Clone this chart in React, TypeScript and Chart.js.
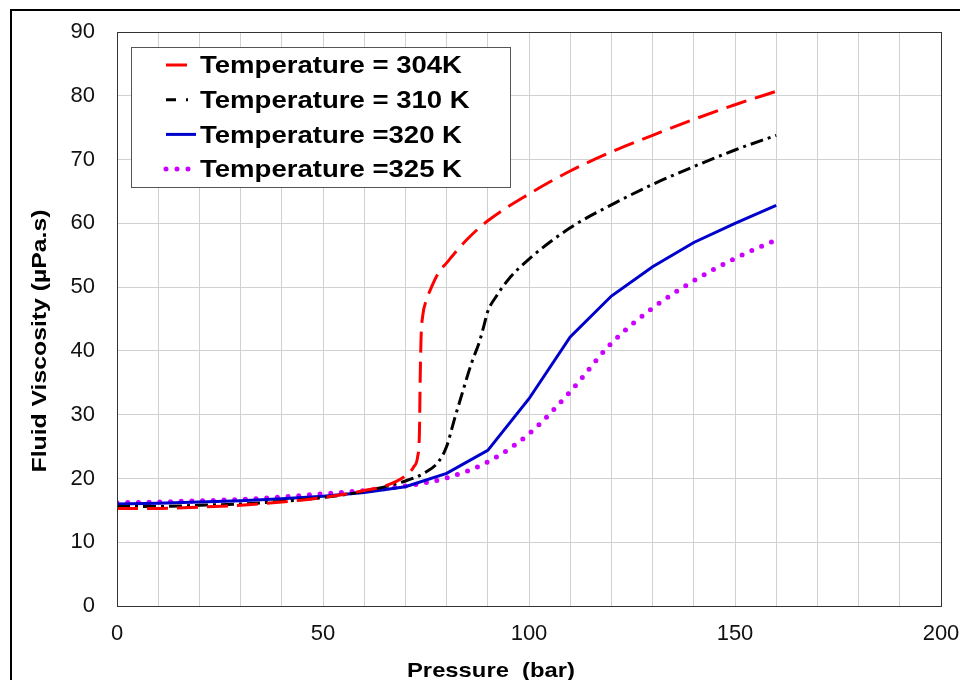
import React, { useEffect, useRef } from "react";
import { Chart, registerables } from "chart.js";

Chart.register(...registerables);

const FONT = "'Liberation Sans', Arial, Helvetica, sans-serif";

// ---- data ----
const SERIES_LABELS = [
  "Temperature = 304K",
  "Temperature = 310 K",
  "Temperature =320 K",
  "Temperature =325 K",
];

const P304 = [0, 10, 20, 30, 40, 50, 60, 65, 70, 72, 73, 73.4, 73.6, 73.8, 74.2, 75, 76, 78, 80, 85, 90, 100, 110, 120, 130, 140, 150, 160];
const V304 = [15.3, 15.3, 15.5, 15.8, 16.3, 17.0, 18.1, 18.8, 20.4, 21.8, 23.5, 27.0, 36.0, 42.0, 45.5, 47.8, 49.5, 52.2, 53.8, 57.5, 60.4, 64.6, 68.2, 71.2, 73.8, 76.3, 78.6, 80.7];

const P310 = [0, 10, 20, 30, 40, 50, 60, 70, 75, 78, 80, 82, 84, 86, 88, 89, 90, 92, 95, 100, 110, 120, 130, 140, 150, 160];
const V310 = [15.6, 15.6, 15.8, 16.0, 16.4, 17.0, 18.0, 19.6, 21.0, 22.6, 25.0, 29.5, 33.8, 38.0, 41.5, 43.8, 46.2, 48.5, 51.2, 54.4, 59.3, 62.9, 66.1, 68.9, 71.5, 73.8];

const P320 = [0, 10, 20, 30, 40, 50, 60, 70, 80, 90, 100, 110, 120, 130, 140, 150, 160];
const V320 = [16.0, 16.1, 16.3, 16.5, 16.8, 17.2, 17.8, 18.7, 20.8, 24.4, 32.5, 42.2, 48.6, 53.2, 57.0, 60.0, 62.8];

const P325 = [0, 10, 20, 30, 40, 50, 60, 70, 80, 90, 100, 110, 120, 130, 140, 150, 160];
const V325 = [16.2, 16.3, 16.5, 16.7, 17.1, 17.6, 18.1, 18.8, 20.1, 22.6, 27.0, 33.6, 41.2, 46.7, 51.0, 54.5, 57.4];

const X_TITLE = "Pressure  (bar)";
const Y_TITLE = "Fluid Viscosity (µPa.s)";
const X_MIN = 0;
const X_MAX = 200;
const X_STEP = 10;
const X_LABEL_EVERY = 50;
const Y_MIN = 0;
const Y_MAX = 90;
const Y_STEP = 10;

// ---- styles ----
const COLORS = ["#ff0000", "#000000", "#0000cc", "#cc00ff"];
const DASHES: number[][] = [[21, 9], [13, 5, 3, 5], [], [0, 10.7]];
const WIDTHS = [3, 3, 3, 5];
const LEGEND_SAMPLE_DASH: number[][] = [[21, 20], [10, 10, 2, 20], [], [0, 11]];
const LEGEND_SAMPLE_LEN = [21, 23, 30, 23];

function toPoints(xs: number[], ys: number[]) {
  return xs.map((x, i) => ({ x, y: ys[i] }));
}

function drawStretched(
  ctx: CanvasRenderingContext2D,
  text: string,
  x: number,
  y: number,
  font: string,
  width: number,
  align: "left" | "center",
  rotate: boolean
) {
  ctx.save();
  ctx.font = font;
  ctx.textBaseline = "alphabetic";
  ctx.textAlign = align;
  const w = ctx.measureText(text).width;
  const k = width / w;
  ctx.translate(x, y);
  if (rotate) ctx.rotate(-Math.PI / 2);
  ctx.scale(k, 1);
  ctx.fillStyle = "#000";
  ctx.fillText(text, 0, 0);
  ctx.restore();
}

const decorPlugin = {
  id: "decor",
  afterDatasetsDraw(chart: any) {
    const { ctx, chartArea: a } = chart;
    // plot frame
    ctx.save();
    ctx.strokeStyle = "#333";
    ctx.lineWidth = 1;
    ctx.strokeRect(Math.round(a.left) + 0.5, Math.round(a.top) + 0.5, Math.round(a.right - a.left), Math.round(a.bottom - a.top));
    ctx.restore();

    // legend box
    const bx = Math.round(a.left) + 14;
    const by = Math.round(a.top) + 15;
    const bw = 379;
    const bh = 140;
    ctx.save();
    ctx.fillStyle = "#fff";
    ctx.fillRect(bx, by, bw, bh);
    ctx.strokeStyle = "#555";
    ctx.lineWidth = 1;
    ctx.strokeRect(bx + 0.5, by + 0.5, bw, bh);
    const legendFont = `bold 23px ${FONT}`;
    ctx.font = legendFont;
    const k = 262 / ctx.measureText(SERIES_LABELS[0]).width;
    SERIES_LABELS.forEach((label, i) => {
      const ry = by + 18 + i * 34.7;
      const sx = bx + 35;
      ctx.save();
      ctx.strokeStyle = COLORS[i];
      ctx.lineWidth = WIDTHS[i];
      ctx.lineCap = i === 3 ? "round" : "butt";
      ctx.setLineDash(LEGEND_SAMPLE_DASH[i]);
      ctx.beginPath();
      ctx.moveTo(sx, ry);
      ctx.lineTo(sx + LEGEND_SAMPLE_LEN[i], ry);
      ctx.stroke();
      ctx.restore();
      const w = ctx.measureText(label).width * k;
      drawStretched(ctx, label, bx + 69, ry + 8.2, legendFont, w, "left", false);
    });
    ctx.restore();
  },
  afterDraw(chart: any) {
    const { ctx, chartArea: a } = chart;
    // axis titles
    drawStretched(ctx, X_TITLE, a.left + 374, a.bottom + 71, `bold 21px ${FONT}`, 168, "center", false);
    drawStretched(ctx, Y_TITLE, a.left - 71.5, (a.top + a.bottom) / 2 + 22, `bold 21px ${FONT}`, 263, "center", true);
  },
};

export default function App() {
  const ref = useRef<HTMLCanvasElement>(null);

  useEffect(() => {
    const series = [
      toPoints(P304, V304),
      toPoints(P310, V310),
      toPoints(P320, V320),
      toPoints(P325, V325),
    ];
    const chart = new Chart(ref.current as HTMLCanvasElement, {
      type: "line",
      data: {
        datasets: series.map((data, i) => ({
          label: SERIES_LABELS[i],
          data,
          borderColor: COLORS[i],
          backgroundColor: COLORS[i],
          borderWidth: WIDTHS[i],
          borderDash: DASHES[i],
          borderCapStyle: i === 3 ? "round" : "butt",
          pointRadius: 0,
          fill: false,
          tension: 0,
          cubicInterpolationMode: i === 2 ? "default" : "monotone",
        })),
      },
      options: {
        animation: false,
        responsive: false,
        devicePixelRatio: 1,
        layout: { padding: { left: 0, top: 32, right: 19, bottom: 0 } },
        plugins: {
          legend: { display: false },
          tooltip: { enabled: false },
          title: { display: false },
        },
        scales: {
          x: {
            type: "linear",
            min: X_MIN,
            max: X_MAX,
            ticks: {
              stepSize: X_STEP,
              autoSkip: false,
              maxRotation: 0,
              minRotation: 0,
              padding: 15,
              color: "#111",
              font: { family: FONT, size: 22 },
              callback: (v: any) => (Number(v) % X_LABEL_EVERY === 0 ? String(v) : ""),
            },
            grid: { color: "#d0d0d0", lineWidth: 1, drawTicks: false },
            border: { display: true, color: "#333", width: 1 },
            afterFit: (s: any) => {
              s.height = 74;
              s.paddingLeft = 0;
              s.paddingRight = 0;
            },
          },
          y: {
            type: "linear",
            min: Y_MIN,
            max: Y_MAX,
            ticks: {
              stepSize: Y_STEP,
              padding: 22,
              color: "#111",
              font: { family: FONT, size: 22 },
            },
            grid: { color: "#d0d0d0", lineWidth: 1, drawTicks: false },
            border: { display: true, color: "#333", width: 1 },
            afterFit: (s: any) => {
              s.width = 117;
              s.paddingTop = 0;
              s.paddingBottom = 0;
            },
          },
        },
      },
      plugins: [decorPlugin],
    } as any);
    return () => chart.destroy();
  }, []);

  return (
    <div style={{ position: "fixed", left: 0, top: 0, width: 960, height: 680, overflow: "hidden", background: "#fff" }}>
      <div
        style={{
          position: "absolute",
          left: 10,
          top: 9,
          width: 1000,
          height: 720,
          border: "2px solid #000",
          boxSizing: "border-box",
        }}
      />
      <canvas
        ref={ref}
        width={960}
        height={680}
        style={{ position: "absolute", left: 0, top: 0, width: 960, height: 680 }}
      />
    </div>
  );
}
